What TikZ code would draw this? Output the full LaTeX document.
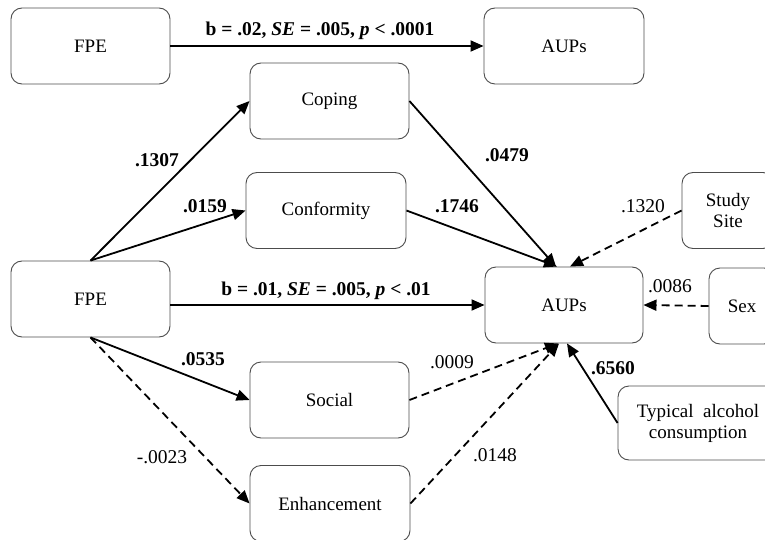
\documentclass[tikz,border=0pt]{standalone}
\usepackage{fontspec}
\setmainfont{Liberation Serif}
\usetikzlibrary{arrows.meta}
\begin{document}
\begin{tikzpicture}[x=1pt,y=-1pt,
 box/.style={draw=black!70, line width=0.9pt, rounded corners=11pt, minimum width=160pt, minimum height=76pt, inner sep=2pt, font=\fontsize{19}{21}\selectfont, align=center},
 sig/.style={line width=1.8pt, -{Triangle[length=13pt,width=11pt]}},
 ns/.style={sig, dash pattern=on 8pt off 5pt},
 blab/.style={font=\fontsize{19.5}{22}\selectfont\bfseries, inner sep=1pt},
 nlab/.style={font=\fontsize{19.5}{22}\selectfont, inner sep=1pt}]
\useasboundingbox (0,0) rectangle (765,540);
\clip (0,0) rectangle (765,540);

% boxes
\node[box, minimum width=159pt] (fpeTop) at (90.5,46) {FPE};
\node[box] (aupsTop) at (564,46) {AUPs};
\node[box, minimum width=159pt] (coping) at (329.5,101) {Coping};
\node[box] (conformity) at (326,210.5) {Conformity};
\node[box, minimum width=159pt] (fpeMid) at (90.5,299) {FPE};
\node[box, minimum width=158pt] (aupsMid) at (564,305) {AUPs};
\node[box, minimum width=159pt] (social) at (329.5,400) {Social};
\node[box] (enh) at (330,503.5) {Enhancement};
\node[box, minimum width=92pt] (site) at (728,210.5) {Study\\Site};
\node[box, minimum width=66pt] (sex) at (742,306) {Sex};
\node[box, minimum height=74pt] (typ) at (698,423) {Typical~~alcohol\\consumption};

% paths
\draw[sig] (fpeTop.east) -- (aupsTop.west);
\draw[sig] (fpeMid.north) -- (coping.west);
\draw[sig] (fpeMid.north) -- (conformity.west);
\draw[sig] (fpeMid.east |- aupsMid.west) -- (aupsMid.west);
\draw[sig] (fpeMid.south) -- (social.west);
\draw[ns] (fpeMid.south) -- (enh.west);
\draw[sig] (coping.east) -- ([xshift=-8pt]aupsMid.north);
\draw[sig] (conformity.east) -- ([xshift=-7pt]aupsMid.north);
\draw[ns] (site.west) -- ([xshift=6pt]aupsMid.north);
\draw[ns] (sex.west) -- (aupsMid.east);
\draw[ns] (social.east) -- ([xshift=-6pt]aupsMid.south);
\draw[ns] (enh.east) -- ([xshift=-5pt]aupsMid.south);
\draw[sig] (typ.west) -- ([xshift=3pt]aupsMid.south);

% labels
\node[blab] (l1) at (320,31) {b = .02, \textit{SE} = .005, \textit{p} < .0001};
\node[blab] (l2) at (326,291) {b = .01, \textit{SE} = .005, \textit{p} < .01};
\node[blab] (l3) at (157,160) {.1307};
\node[blab] (l4) at (205,206) {.0159};
\node[blab] (l5) at (507,155) {.0479};
\node[blab] (l6) at (457,206) {.1746};
\node[nlab] (l7) at (643,206) {.1320};
\node[nlab] (l8) at (670,286) {.0086};
\node[blab] (l9) at (613,368) {.6560};
\node[blab] (l10) at (203,359) {.0535};
\node[nlab] (l11) at (162,457) {-.0023};
\node[nlab] (l12) at (452,362) {.0009};
\node[nlab] (l13) at (495,455) {.0148};
\end{tikzpicture}
\end{document}
